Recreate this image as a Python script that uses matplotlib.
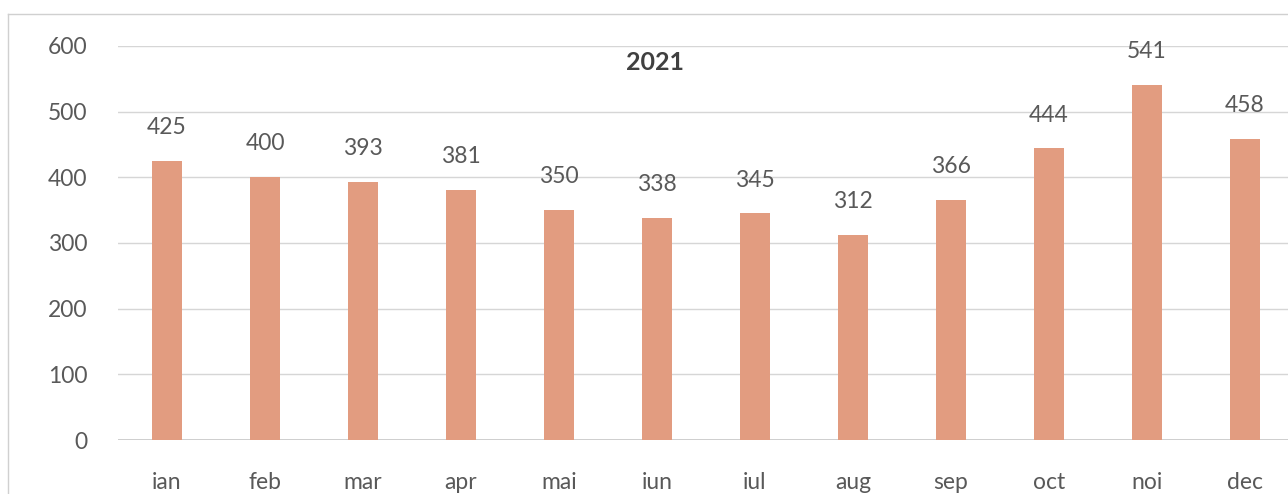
import matplotlib
matplotlib.use("Agg")
import matplotlib.pyplot as plt

months = ["ian", "feb", "mar", "apr", "mai", "iun", "iul", "aug", "sep", "oct", "noi", "dec"]
values = [425, 400, 393, 381, 350, 338, 345, 312, 366, 444, 541, 458]
yticks = [0, 100, 200, 300, 400, 500, 600]
title = "2021"

plt.rcParams['font.family'] = ['Lato', 'DejaVu Sans']
W, H = 1288, 494
fig = plt.figure(figsize=(W/100, H/100), dpi=100)
fig.patch.set_facecolor("white")

# chart border (frame of the chart area)
fig.add_artist(plt.Line2D([8/W, 8/W], [0, 1-14/H], color="#d0d0d0", lw=1))
fig.add_artist(plt.Line2D([8/W, 1], [1-14/H, 1-14/H], color="#d0d0d0", lw=1))

left, right = 118, 1294
top, bottom = 46, 440
ax = fig.add_axes([left/W, 1-bottom/H, (right-left)/W, (bottom-top)/H])
x = list(range(len(months)))
ax.bar(x, values, width=0.31, color="#E29C80", zorder=3)
ax.set_xlim(-0.5, len(months)-0.5)
ax.set_ylim(0, 600)
ax.set_yticks(yticks)
ax.set_yticklabels([str(t) for t in yticks])
ax.set_xticks(x)
ax.set_xticklabels(months)
ax.grid(axis="y", color="#d6d6d6", lw=1, zorder=0)
for s in ax.spines.values():
    s.set_visible(False)
ax.axhline(0, color="#c8c8c8", lw=1.2, zorder=2)
ax.tick_params(axis="both", length=0, labelsize=16.5, colors="#595959")
ax.tick_params(axis="x", pad=23)
ax.tick_params(axis="y", pad=22)
for xi, v in zip(x, values):
    ax.annotate(str(v), (xi, v), xytext=(0, 24), textcoords="offset points",
                ha="center", va="center", fontsize=16.5, color="#595959")
fig.text(655/W, 1-62/H, title, ha="center", va="center", fontsize=18, fontweight="bold", color="#404040")
fig.savefig("out.png", dpi=100)
